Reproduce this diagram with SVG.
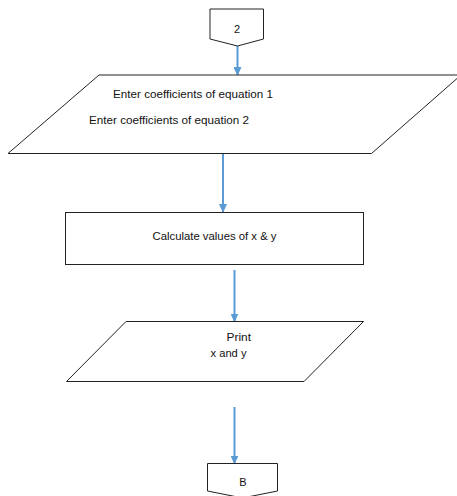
<svg xmlns="http://www.w3.org/2000/svg" width="457" height="496" viewBox="0 0 457 496">
<defs>
<style>
.shape{fill:#fff;stroke:#222;stroke-width:1}
.t{font-family:"Liberation Sans",Arial,sans-serif;font-size:11px;fill:#111}
.c{stroke:#5b9bd5;stroke-width:2;fill:none}
</style>
<marker id="ah" markerWidth="9" markerHeight="8" refX="8" refY="4" orient="auto" markerUnits="userSpaceOnUse">
<path d="M0,0 L9,4 L0,8 Z" fill="#5b9bd5"/>
</marker>
</defs>
<rect width="457" height="496" fill="#fff"/>
<g id="connectors">
<line class="c" x1="237.5" y1="46" x2="237.5" y2="75" marker-end="url(#ah)"/>
<line class="c" x1="223" y1="154" x2="223" y2="212" marker-end="url(#ah)"/>
<line class="c" x1="234.5" y1="270" x2="234.5" y2="321.5" marker-end="url(#ah)"/>
<line class="c" x1="234.5" y1="407" x2="234.5" y2="463.5" marker-end="url(#ah)"/>
</g>
<g id="start">
<polygon class="shape" points="210,9 263.5,9 263.5,39 237.5,46 210,39"/>
<text class="t" x="237" y="33" text-anchor="middle">2</text>
</g>
<g id="input">
<polygon class="shape" points="99,75 461,75 371.5,153.5 8,153.5"/>
<text class="t" x="113" y="97.5" textLength="160" lengthAdjust="spacingAndGlyphs">Enter coefficients of equation 1</text>
<text class="t" x="89" y="124" textLength="160" lengthAdjust="spacingAndGlyphs">Enter coefficients of equation 2</text>
</g>
<g id="calc">
<rect class="shape" x="65.5" y="212.5" width="298" height="52"/>
<text class="t" x="152.5" y="239.5" textLength="124" lengthAdjust="spacingAndGlyphs">Calculate values of x &amp; y</text>
</g>
<g id="output">
<polygon class="shape" points="126,321.5 363.5,321.5 304,381.5 66.5,381.5"/>
<text class="t" x="226.5" y="340.5" textLength="24.5" lengthAdjust="spacingAndGlyphs">Print</text>
<text class="t" x="210.5" y="356.5" textLength="36" lengthAdjust="spacingAndGlyphs">x and y</text>
</g>
<g id="end">
<polygon class="shape" points="207.5,463.5 277.5,463.5 277.5,491 242.5,498 207.5,491"/>
<text class="t" x="243" y="485.5" text-anchor="middle">B</text>
</g>
</svg>
